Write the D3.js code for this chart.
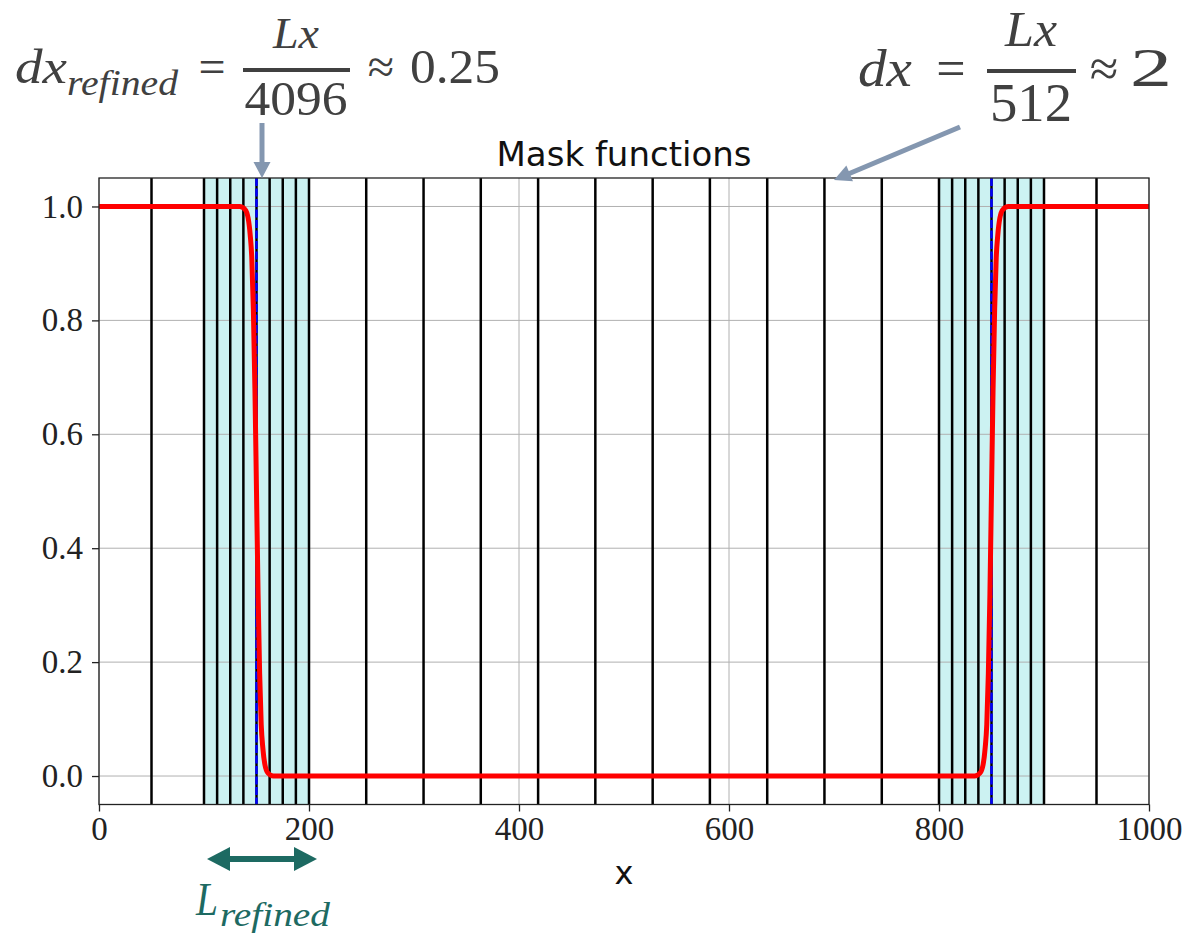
<!DOCTYPE html>
<html>
<head>
<meta charset="utf-8">
<script src="https://cdn.jsdelivr.net/npm/d3@7"></script>
<style>
  body { margin: 0; background: #fff; }
</style>
</head>
<body>
<svg id="chart" width="1183" height="934"></svg>
<script>
// grid positions (x)
const coarseLines = [50, 254.5, 309.1, 363.6, 418.2, 472.7, 527.3, 581.8, 636.4, 690.9, 745.5, 950];
const refinedLines = [100, 112.5, 125, 137.5, 150, 162.5, 175, 187.5, 200,
                      800, 812.5, 825, 837.5, 850, 862.5, 875, 887.5, 900];
const refinedBands = [[100, 200], [800, 900]];
const interfaces = [150, 850];

// the mask function (red line)
const maskX = [0, 134, 139, 142, 144, 145.5, 147, 148.5, 150, 151.5, 153, 154.5, 156, 158, 161, 166,
               834, 839, 842, 844, 845.5, 847, 848.5, 850, 851.5, 853, 854.5, 856, 858, 861, 866, 1000];
const maskY = [1, 1, 0.995, 0.98, 0.95, 0.91, 0.82, 0.68, 0.5, 0.32, 0.18, 0.09, 0.05, 0.02, 0.005, 0,
               0, 0.005, 0.02, 0.05, 0.09, 0.18, 0.32, 0.5, 0.68, 0.82, 0.91, 0.95, 0.98, 0.995, 1, 1];

const xTicks = [0, 200, 400, 600, 800, 1000];
const yTicks = [0, 0.2, 0.4, 0.6, 0.8, 1.0];

const serif = '"Liberation Serif", "DejaVu Serif", "Times New Roman", serif';

const svg = d3.select("#chart");
const plot = {left: 99, right: 1149, top: 178, bottom: 804.5};

const x = d3.scaleLinear().domain([0, 1000]).range([plot.left, plot.right]);
const y = d3.scaleLinear().domain([-0.05, 1.05]).range([plot.bottom, plot.top]);

svg.append("rect").attr("width", 1183).attr("height", 934).attr("fill", "#fff");

// cyan refined regions (under the grid, like matplotlib patches)
svg.selectAll("rect.band")
  .data(refinedBands)
  .enter()
  .append("rect")
  .attr("class", "band")
  .attr("x", d => x(d[0]))
  .attr("y", plot.top)
  .attr("width", d => x(d[1]) - x(d[0]))
  .attr("height", plot.bottom - plot.top)
  .attr("fill", "#ccf2f2");

// grid
svg.selectAll("line.hgrid")
  .data(yTicks)
  .enter()
  .append("line")
  .attr("x1", plot.left).attr("x2", plot.right)
  .attr("y1", d => y(d)).attr("y2", d => y(d))
  .attr("stroke", "#b0b0b0").attr("stroke-width", 1);

svg.selectAll("line.vgrid")
  .data(xTicks)
  .enter()
  .append("line")
  .attr("x1", d => x(d)).attr("x2", d => x(d))
  .attr("y1", plot.top).attr("y2", plot.bottom)
  .attr("stroke", "#b0b0b0").attr("stroke-width", 1);

// black mesh lines
svg.selectAll("line.mesh")
  .data(coarseLines.concat(refinedLines))
  .enter()
  .append("line")
  .attr("x1", d => x(d)).attr("x2", d => x(d))
  .attr("y1", plot.top).attr("y2", plot.bottom)
  .attr("stroke", "#000").attr("stroke-width", 2.5);

// blue dashed at the interfaces
svg.selectAll("line.iface")
  .data(interfaces)
  .enter()
  .append("line")
  .attr("x1", d => x(d)).attr("x2", d => x(d))
  .attr("y1", plot.top).attr("y2", plot.bottom)
  .attr("stroke", "#0000ff").attr("stroke-width", 2.5)
  .attr("stroke-dasharray", "8,2.5");

// mask line
const line = d3.line()
  .x((d, i) => x(maskX[i]))
  .y(d => y(d))
  .curve(d3.curveMonotoneX);

svg.append("path")
  .datum(maskY)
  .attr("d", line)
  .attr("fill", "none")
  .attr("stroke", "#ff0000")
  .attr("stroke-width", 5);

// spines
svg.append("rect")
  .attr("x", plot.left).attr("y", plot.top)
  .attr("width", plot.right - plot.left).attr("height", plot.bottom - plot.top)
  .attr("fill", "none").attr("stroke", "#222").attr("stroke-width", 1.3);

// axes
const xAxis = svg.append("g")
  .attr("transform", "translate(0," + plot.bottom + ")")
  .call(d3.axisBottom(x).tickValues(xTicks).tickSize(7).tickPadding(5.5).tickFormat(d3.format("d")));
const yAxis = svg.append("g")
  .attr("transform", "translate(" + plot.left + ",0)")
  .call(d3.axisLeft(y).tickValues(yTicks).tickSize(7).tickPadding(9).tickFormat(d3.format(".1f")));
[xAxis, yAxis].forEach(a => {
  a.select(".domain").remove();
  a.attr("font-family", null).attr("font-size", null);
  a.selectAll(".tick line").attr("stroke", "#222").attr("stroke-width", 1.3);
  a.selectAll(".tick text")
    .style("font-family", serif)
    .style("font-size", "33px")
    .attr("fill", "#222");
});

// title + x label
svg.append("text")
  .attr("x", (plot.left + plot.right) / 2).attr("y", 166)
  .attr("text-anchor", "middle")
  .style("font-family", "DejaVu Sans, sans-serif").style("font-size", "34px").attr("fill", "#111")
  .text("Mask functions");

svg.append("text")
  .attr("x", (plot.left + plot.right) / 2).attr("y", 884)
  .attr("text-anchor", "middle")
  .style("font-family", "DejaVu Sans, sans-serif").style("font-size", "32px").attr("fill", "#111")
  .text("x");

// arrow helper: shaft + triangle head at (x2,y2)
function drawArrow(x1, y1, x2, y2, w, headLen, headW, color, twoWay) {
  const dx = x2 - x1, dy = y2 - y1, len = Math.hypot(dx, dy);
  const ux = dx / len, uy = dy / len, px = -uy, py = ux;
  const sx1 = twoWay ? x1 + ux * (headLen - 1) : x1, sy1 = twoWay ? y1 + uy * (headLen - 1) : y1;
  svg.append("line")
    .attr("x1", sx1).attr("y1", sy1)
    .attr("x2", x2 - ux * (headLen - 1)).attr("y2", y2 - uy * (headLen - 1))
    .attr("stroke", color).attr("stroke-width", w);
  const head = (tx, ty, vx, vy) => {
    const bx = tx - vx * headLen, by = ty - vy * headLen;
    svg.append("path")
      .attr("d", "M" + tx + "," + ty + "L" + (bx + px * headW) + "," + (by + py * headW) +
                 "L" + (bx - px * headW) + "," + (by - py * headW) + "Z")
      .attr("fill", color);
  };
  head(x2, y2, ux, uy);
  if (twoWay) head(x1, y1, -ux, -uy);
}

const grayBlue = "#8497b0";
drawArrow(262, 123, 262, 178, 5, 16, 8.5, grayBlue);
drawArrow(960, 127, 834, 180, 5, 17, 8.5, grayBlue);

// math text helper
function mtext(xp, yp, str, size, italic, anchor, len) {
  const t = svg.append("text")
    .attr("x", xp).attr("y", yp)
    .style("font-family", serif)
    .style("fill", "#404040")
    .style("font-size", size + "px")
    .style("font-style", italic ? "italic" : "normal")
    .attr("text-anchor", anchor || "start")
    .text(str);
  if (len) t.attr("textLength", len).attr("lengthAdjust", "spacingAndGlyphs");
  return t;
}

// left annotation: dx_refined = Lx/4096 ≈ 0.25
mtext(15, 83, "dx", 48, true, "start", 52);
mtext(67, 95, "refined", 36, true, "start", 111);
mtext(212, 83, "=", 48, false, "middle");
svg.append("line").attr("x1", 243).attr("x2", 350).attr("y1", 70).attr("y2", 70)
  .attr("stroke", "#404040").attr("stroke-width", 4);
mtext(296, 48, "Lx", 44, true, "middle", 46);
mtext(296, 115, "4096", 48, false, "middle", 103);
mtext(381, 83, "\u2248", 48, false, "middle");
mtext(410, 83, "0.25", 48, false, "start", 90);

// right annotation: dx = Lx/512 ≈ 2
mtext(858, 86, "dx", 52, true, "start", 54);
mtext(951, 86, "=", 52, false, "middle");
svg.append("line").attr("x1", 987).attr("x2", 1076).attr("y1", 71).attr("y2", 71)
  .attr("stroke", "#404040").attr("stroke-width", 4);
mtext(1031, 46, "Lx", 50, true, "middle", 52);
mtext(1031, 121, "512", 54, false, "middle", 82);
mtext(1104, 86, "\u2248", 52, false, "middle");
mtext(1130, 86, "2", 54, false, "start", 42);

// L_refined double arrow
const teal = "#1d6a62";
drawArrow(207, 859, 317, 859, 6, 23, 12, teal, true);
mtext(196, 915, "L", 46, true, "start", 22).style("fill", teal);
mtext(220, 926, "refined", 34, true, "start", 110).style("fill", teal);
</script>
</body>
</html>
